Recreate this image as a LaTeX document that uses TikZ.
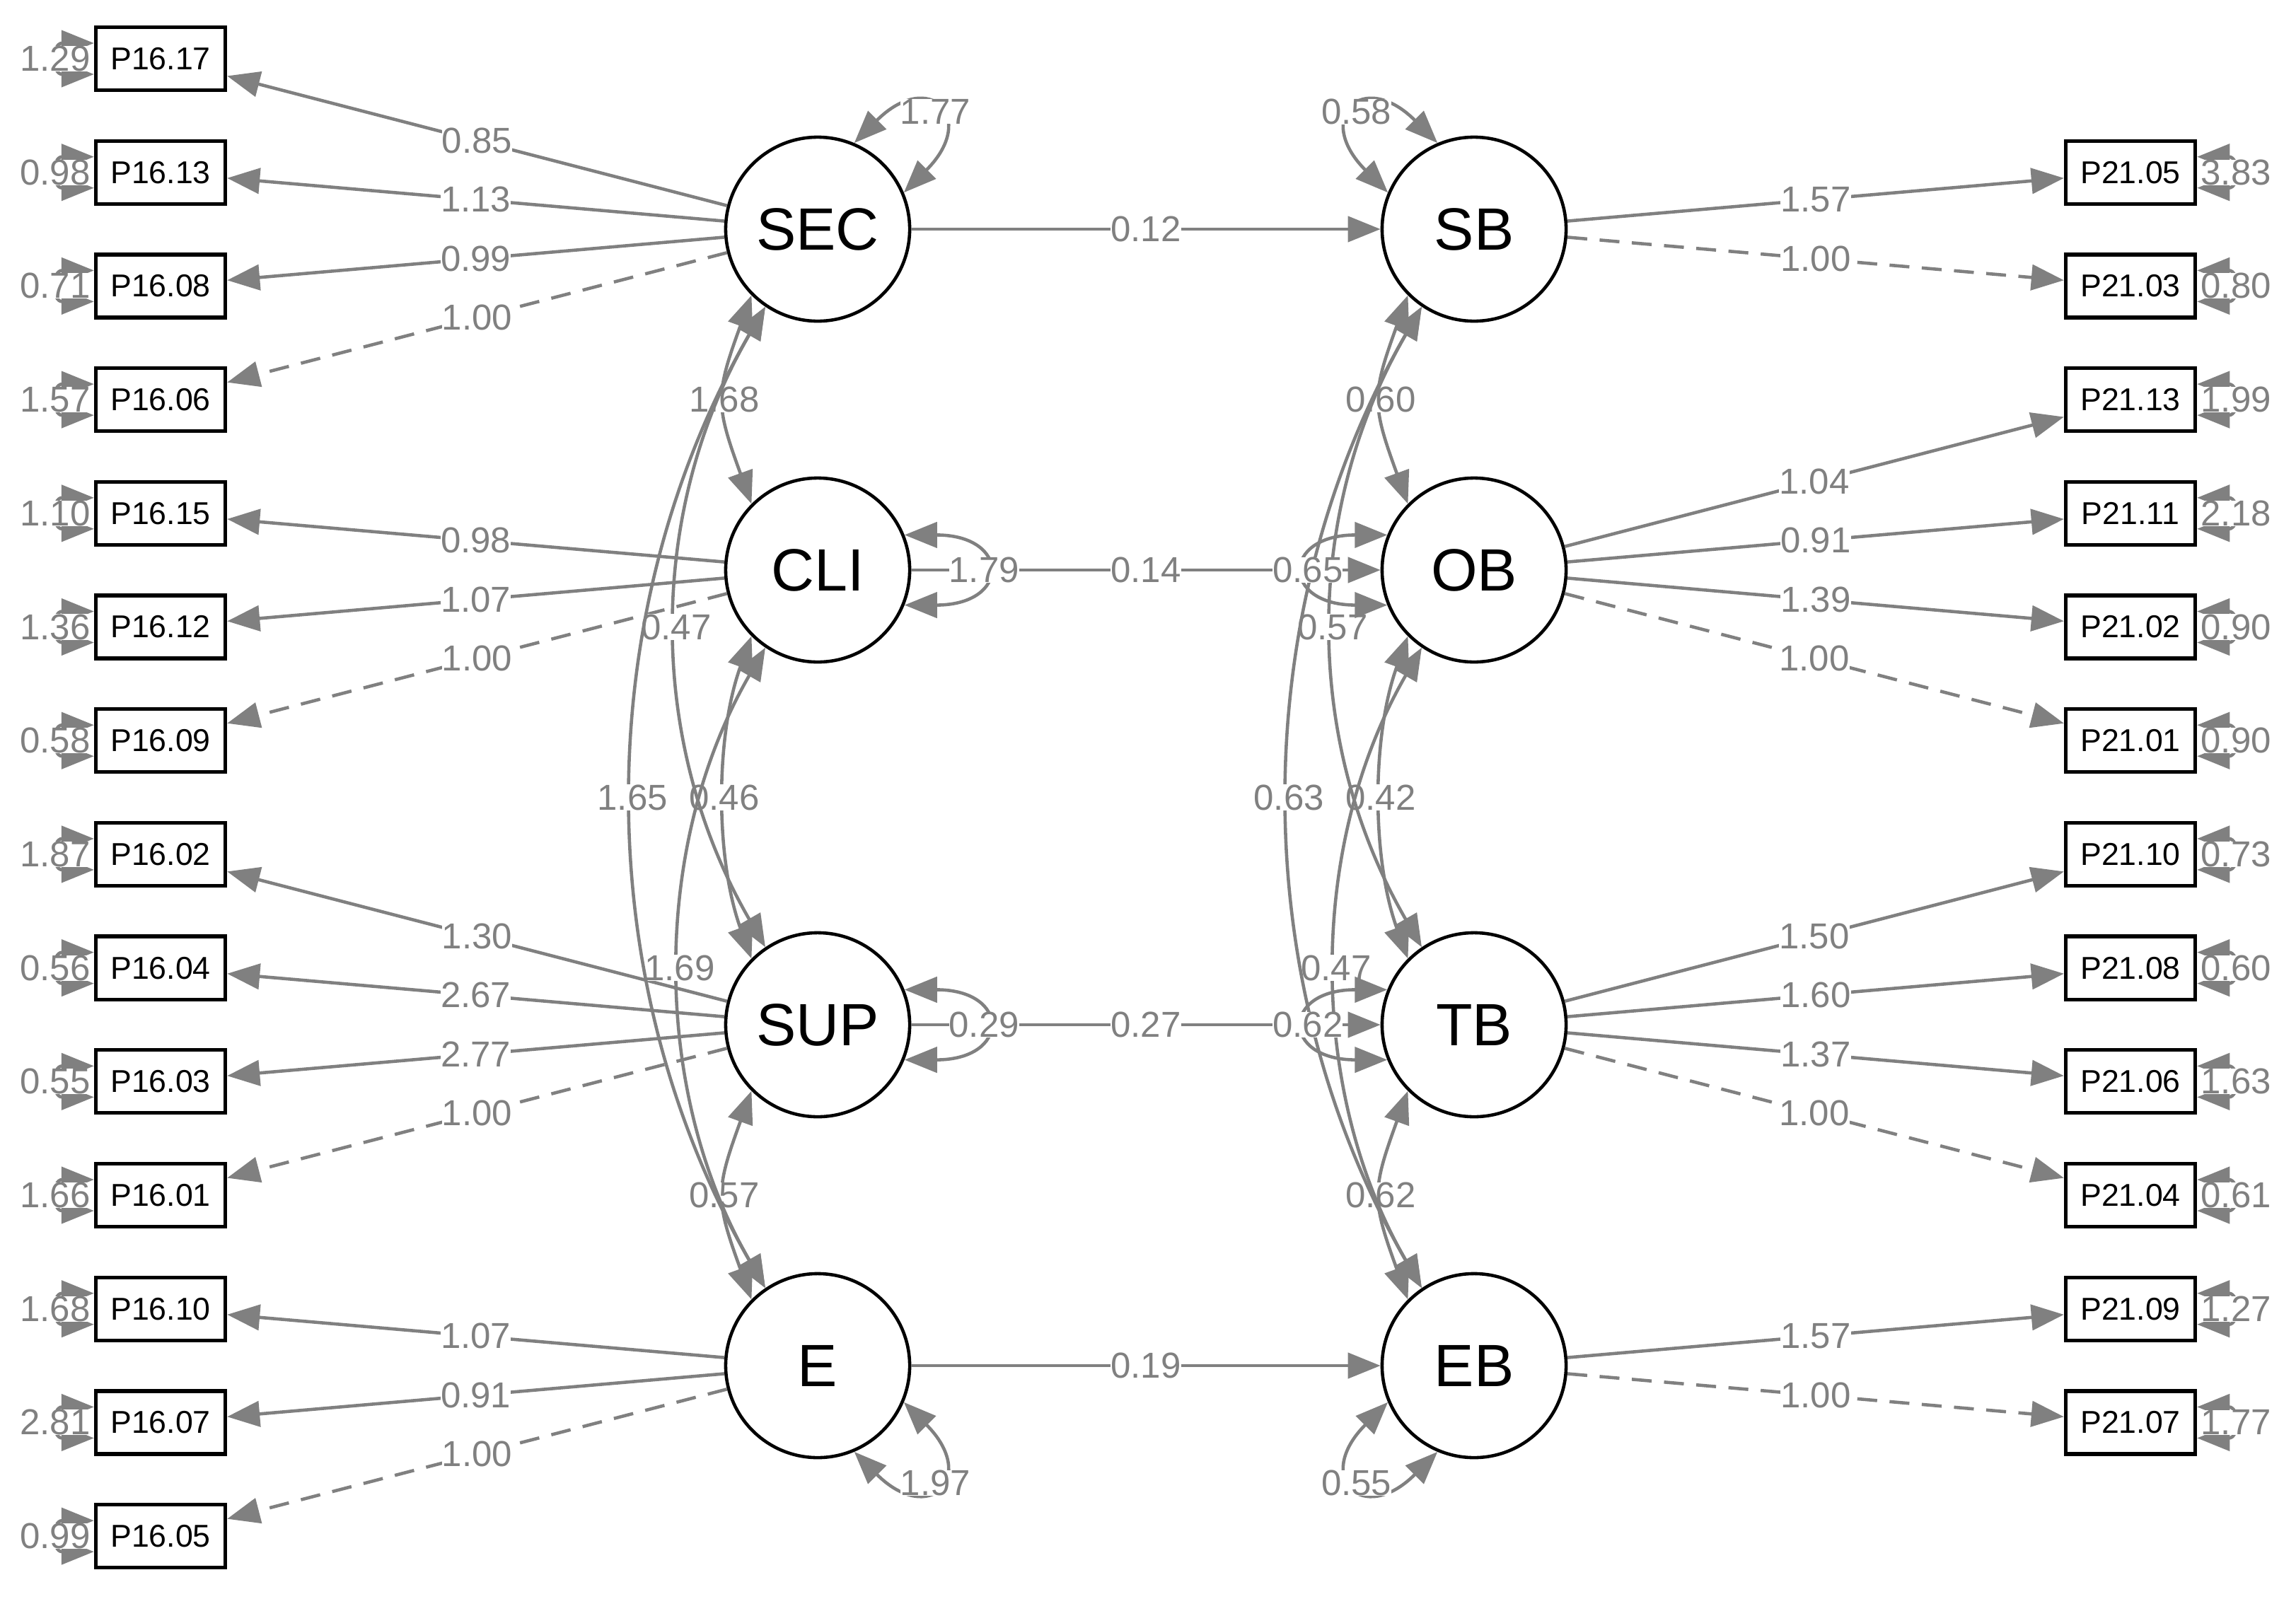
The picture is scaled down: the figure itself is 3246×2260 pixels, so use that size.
\documentclass[tikz,border=0pt]{standalone}
\usepackage{fontspec}
\setmainfont{Liberation Sans}
\usetikzlibrary{arrows.meta,calc}

\begin{document}
\begin{tikzpicture}[x=0.01cm,y=0.01cm,
    man/.style={draw,line width=1.5pt,minimum width=1.83cm,minimum height=0.89cm,
                inner sep=0pt,font=\fontsize{12.7}{14}\selectfont},
    lat/.style={draw,circle,line width=1.3pt,minimum size=2.6cm,inner sep=0pt,
                font=\fontsize{24}{28}\selectfont},
    load/.style={draw=gray,line width=1.3pt,-{Triangle[length=0.46cm,width=0.36cm]}},
    fixed/.style={load,dash pattern=on 8pt off 5pt},
    cov/.style={draw=gray,line width=1.3pt,
                {Triangle[length=0.46cm,width=0.36cm]}-{Triangle[length=0.46cm,width=0.36cm]}},
    lbl/.style={fill=white,inner sep=0pt,text=gray,font=\fontsize{14.5}{16}\selectfont}]
%
  \useasboundingbox (0,0) rectangle (3246,-2260);
%
  \node[lat] (SEC) at (1156,-324)  {SEC};
  \node[lat] (CLI) at (1156,-806)  {CLI};
  \node[lat] (SUP) at (1156,-1449) {SUP};
  \node[lat] (E)   at (1156,-1931) {E};
  \node[lat] (SB)  at (2084,-324)  {SB};
  \node[lat] (OB)  at (2084,-806)  {OB};
  \node[lat] (TB)  at (2084,-1449) {TB};
  \node[lat] (EB)  at (2084,-1931) {EB};
%
  \node[man] (p1617) at (227,-83)     {P16.17};
  \node[man] (p1613) at (227,-243.7)  {P16.13};
  \node[man] (p1608) at (227,-404.4)  {P16.08};
  \node[man] (p1606) at (227,-565.1)  {P16.06};
  \node[man] (p1615) at (227,-725.8)  {P16.15};
  \node[man] (p1612) at (227,-886.5)  {P16.12};
  \node[man] (p1609) at (227,-1047.2) {P16.09};
  \node[man] (p1602) at (227,-1207.9) {P16.02};
  \node[man] (p1604) at (227,-1368.6) {P16.04};
  \node[man] (p1603) at (227,-1529.3) {P16.03};
  \node[man] (p1601) at (227,-1690)   {P16.01};
  \node[man] (p1610) at (227,-1850.7) {P16.10};
  \node[man] (p1607) at (227,-2011.4) {P16.07};
  \node[man] (p1605) at (227,-2172.1) {P16.05};
%
  \node[man] (p2105) at (3012,-243.7)  {P21.05};
  \node[man] (p2103) at (3012,-404.4)  {P21.03};
  \node[man] (p2113) at (3012,-565.1)  {P21.13};
  \node[man] (p2111) at (3012,-725.8)  {P21.11};
  \node[man] (p2102) at (3012,-886.5)  {P21.02};
  \node[man] (p2101) at (3012,-1047.2) {P21.01};
  \node[man] (p2110) at (3012,-1207.9) {P21.10};
  \node[man] (p2108) at (3012,-1368.6) {P21.08};
  \node[man] (p2106) at (3012,-1529.3) {P21.06};
  \node[man] (p2104) at (3012,-1690)   {P21.04};
  \node[man] (p2109) at (3012,-1850.7) {P21.09};
  \node[man] (p2107) at (3012,-2011.4) {P21.07};
%
  % loadings
  \draw[load]  (SEC) -- node[lbl] {0.85} (p1617);
  \draw[load]  (SEC) -- node[lbl] {1.13} (p1613);
  \draw[load]  (SEC) -- node[lbl] {0.99} (p1608);
  \draw[fixed] (SEC) -- node[lbl] {1.00} (p1606);
  \draw[load]  (CLI) -- node[lbl] {0.98} (p1615);
  \draw[load]  (CLI) -- node[lbl] {1.07} (p1612);
  \draw[fixed] (CLI) -- node[lbl] {1.00} (p1609);
  \draw[load]  (SUP) -- node[lbl] {1.30} (p1602);
  \draw[load]  (SUP) -- node[lbl] {2.67} (p1604);
  \draw[load]  (SUP) -- node[lbl] {2.77} (p1603);
  \draw[fixed] (SUP) -- node[lbl] {1.00} (p1601);
  \draw[load]  (E)   -- node[lbl] {1.07} (p1610);
  \draw[load]  (E)   -- node[lbl] {0.91} (p1607);
  \draw[fixed] (E)   -- node[lbl] {1.00} (p1605);
%
  \draw[load]  (SB) -- node[lbl] {1.57} (p2105);
  \draw[fixed] (SB) -- node[lbl] {1.00} (p2103);
  \draw[load]  (OB) -- node[lbl] {1.04} (p2113);
  \draw[load]  (OB) -- node[lbl] {0.91} (p2111);
  \draw[load]  (OB) -- node[lbl] {1.39} (p2102);
  \draw[fixed] (OB) -- node[lbl] {1.00} (p2101);
  \draw[load]  (TB) -- node[lbl] {1.50} (p2110);
  \draw[load]  (TB) -- node[lbl] {1.60} (p2108);
  \draw[load]  (TB) -- node[lbl] {1.37} (p2106);
  \draw[fixed] (TB) -- node[lbl] {1.00} (p2104);
  \draw[load]  (EB) -- node[lbl] {1.57} (p2109);
  \draw[fixed] (EB) -- node[lbl] {1.00} (p2107);
%
  % regressions
  \draw[load] (SEC) -- node[lbl] {0.12} (SB);
  \draw[load] (CLI) -- node[lbl] {0.14} (OB);
  \draw[load] (SUP) -- node[lbl] {0.27} (TB);
  \draw[load] (E)   -- node[lbl] {0.19} (EB);
%
  % covariances
  \draw[cov] (SEC.225) .. controls +(250:150) and +(110:150) .. node[lbl] {1.68} (CLI.135);
  \draw[cov] (CLI.225) .. controls +(250:150) and +(110:150) .. node[lbl] {0.46} (SUP.135);
  \draw[cov] (SUP.225) .. controls +(250:150) and +(110:150) .. node[lbl] {0.57} (E.135);
  \draw[cov] (SEC.236) .. controls +(240:336) and +(120:336) .. node[lbl] {0.47} (SUP.124);
  \draw[cov] (CLI.236) .. controls +(240:323) and +(120:323) .. node[lbl] {1.69} (E.124);
  \draw[cov] (SEC.236) .. controls +(240:501) and +(120:501) .. node[lbl] {1.65} (E.124);
%
  \draw[cov] (SB.225) .. controls +(250:150) and +(110:150) .. node[lbl] {0.60} (OB.135);
  \draw[cov] (OB.225) .. controls +(250:150) and +(110:150) .. node[lbl] {0.42} (TB.135);
  \draw[cov] (TB.225) .. controls +(250:150) and +(110:150) .. node[lbl] {0.62} (EB.135);
  \draw[cov] (SB.236) .. controls +(240:336) and +(120:336) .. node[lbl] {0.57} (TB.124);
  \draw[cov] (OB.236) .. controls +(240:323) and +(120:323) .. node[lbl] {0.47} (EB.124);
  \draw[cov] (SB.236) .. controls +(240:501) and +(120:501) .. node[lbl] {0.63} (EB.124);
%
  % latent variances
  \draw[cov] (SEC.67)  .. controls +(45:150)  and +(45:150)  .. node[lbl] {1.77} (SEC.23);
  \draw[cov] (CLI.22)  .. controls +(0:150)   and +(0:150)   .. node[lbl] {1.79} (CLI.-22);
  \draw[cov] (SUP.22)  .. controls +(0:150)   and +(0:150)   .. node[lbl] {0.29} (SUP.-22);
  \draw[cov] (E.-23)   .. controls +(-45:150) and +(-45:150) .. node[lbl] {1.97} (E.-67);
  \draw[cov] (SB.113)  .. controls +(135:150) and +(135:150) .. node[lbl] {0.58} (SB.157);
  \draw[cov] (OB.158)  .. controls +(180:150) and +(180:150) .. node[lbl] {0.65} (OB.202);
  \draw[cov] (TB.158)  .. controls +(180:150) and +(180:150) .. node[lbl] {0.62} (TB.202);
  \draw[cov] (EB.203)  .. controls +(225:150) and +(225:150) .. node[lbl] {0.55} (EB.247);
%
  % residual variances
  \draw[cov] ($(p1617.west)+(0,22)$) .. controls +(180:60) and +(180:60) .. node[lbl,xshift=-0.1cm] {1.29} ($(p1617.west)+(0,-22)$);
  \draw[cov] ($(p1613.west)+(0,22)$) .. controls +(180:60) and +(180:60) .. node[lbl,xshift=-0.1cm] {0.98} ($(p1613.west)+(0,-22)$);
  \draw[cov] ($(p1608.west)+(0,22)$) .. controls +(180:60) and +(180:60) .. node[lbl,xshift=-0.1cm] {0.71} ($(p1608.west)+(0,-22)$);
  \draw[cov] ($(p1606.west)+(0,22)$) .. controls +(180:60) and +(180:60) .. node[lbl,xshift=-0.1cm] {1.57} ($(p1606.west)+(0,-22)$);
  \draw[cov] ($(p1615.west)+(0,22)$) .. controls +(180:60) and +(180:60) .. node[lbl,xshift=-0.1cm] {1.10} ($(p1615.west)+(0,-22)$);
  \draw[cov] ($(p1612.west)+(0,22)$) .. controls +(180:60) and +(180:60) .. node[lbl,xshift=-0.1cm] {1.36} ($(p1612.west)+(0,-22)$);
  \draw[cov] ($(p1609.west)+(0,22)$) .. controls +(180:60) and +(180:60) .. node[lbl,xshift=-0.1cm] {0.58} ($(p1609.west)+(0,-22)$);
  \draw[cov] ($(p1602.west)+(0,22)$) .. controls +(180:60) and +(180:60) .. node[lbl,xshift=-0.1cm] {1.87} ($(p1602.west)+(0,-22)$);
  \draw[cov] ($(p1604.west)+(0,22)$) .. controls +(180:60) and +(180:60) .. node[lbl,xshift=-0.1cm] {0.56} ($(p1604.west)+(0,-22)$);
  \draw[cov] ($(p1603.west)+(0,22)$) .. controls +(180:60) and +(180:60) .. node[lbl,xshift=-0.1cm] {0.55} ($(p1603.west)+(0,-22)$);
  \draw[cov] ($(p1601.west)+(0,22)$) .. controls +(180:60) and +(180:60) .. node[lbl,xshift=-0.1cm] {1.66} ($(p1601.west)+(0,-22)$);
  \draw[cov] ($(p1610.west)+(0,22)$) .. controls +(180:60) and +(180:60) .. node[lbl,xshift=-0.1cm] {1.68} ($(p1610.west)+(0,-22)$);
  \draw[cov] ($(p1607.west)+(0,22)$) .. controls +(180:60) and +(180:60) .. node[lbl,xshift=-0.1cm] {2.81} ($(p1607.west)+(0,-22)$);
  \draw[cov] ($(p1605.west)+(0,22)$) .. controls +(180:60) and +(180:60) .. node[lbl,xshift=-0.1cm] {0.99} ($(p1605.west)+(0,-22)$);
%
  \draw[cov] ($(p2105.east)+(0,22)$) .. controls +(0:60) and +(0:60) .. node[lbl,xshift=0.1cm] {3.83} ($(p2105.east)+(0,-22)$);
  \draw[cov] ($(p2103.east)+(0,22)$) .. controls +(0:60) and +(0:60) .. node[lbl,xshift=0.1cm] {0.80} ($(p2103.east)+(0,-22)$);
  \draw[cov] ($(p2113.east)+(0,22)$) .. controls +(0:60) and +(0:60) .. node[lbl,xshift=0.1cm] {1.99} ($(p2113.east)+(0,-22)$);
  \draw[cov] ($(p2111.east)+(0,22)$) .. controls +(0:60) and +(0:60) .. node[lbl,xshift=0.1cm] {2.18} ($(p2111.east)+(0,-22)$);
  \draw[cov] ($(p2102.east)+(0,22)$) .. controls +(0:60) and +(0:60) .. node[lbl,xshift=0.1cm] {0.90} ($(p2102.east)+(0,-22)$);
  \draw[cov] ($(p2101.east)+(0,22)$) .. controls +(0:60) and +(0:60) .. node[lbl,xshift=0.1cm] {0.90} ($(p2101.east)+(0,-22)$);
  \draw[cov] ($(p2110.east)+(0,22)$) .. controls +(0:60) and +(0:60) .. node[lbl,xshift=0.1cm] {0.73} ($(p2110.east)+(0,-22)$);
  \draw[cov] ($(p2108.east)+(0,22)$) .. controls +(0:60) and +(0:60) .. node[lbl,xshift=0.1cm] {0.60} ($(p2108.east)+(0,-22)$);
  \draw[cov] ($(p2106.east)+(0,22)$) .. controls +(0:60) and +(0:60) .. node[lbl,xshift=0.1cm] {1.63} ($(p2106.east)+(0,-22)$);
  \draw[cov] ($(p2104.east)+(0,22)$) .. controls +(0:60) and +(0:60) .. node[lbl,xshift=0.1cm] {0.61} ($(p2104.east)+(0,-22)$);
  \draw[cov] ($(p2109.east)+(0,22)$) .. controls +(0:60) and +(0:60) .. node[lbl,xshift=0.1cm] {1.27} ($(p2109.east)+(0,-22)$);
  \draw[cov] ($(p2107.east)+(0,22)$) .. controls +(0:60) and +(0:60) .. node[lbl,xshift=0.1cm] {1.77} ($(p2107.east)+(0,-22)$);
%
\end{tikzpicture}
\end{document}
